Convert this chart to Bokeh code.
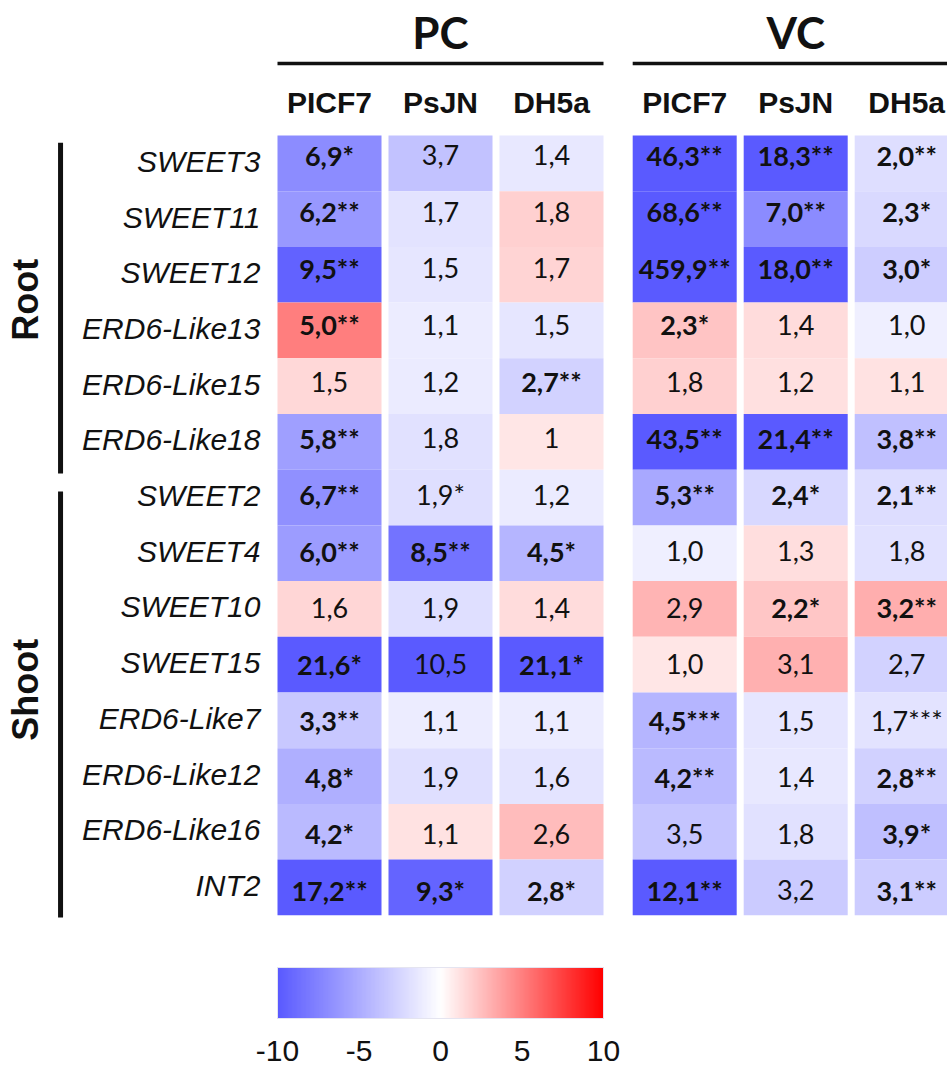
import numpy as np
from bokeh.plotting import figure
from bokeh.models import Range1d, ColumnDataSource, LinearColorMapper, ColorBar, FixedTicker
from bokeh.core.properties import value
from bokeh.embed import file_html
from bokeh.resources import INLINE

# ---------------- data ----------------
genes = ["SWEET3", "SWEET11", "SWEET12", "ERD6-Like13", "ERD6-Like15", "ERD6-Like18",
         "SWEET2", "SWEET4", "SWEET10", "SWEET15", "ERD6-Like7", "ERD6-Like12",
         "ERD6-Like16", "INT2"]
tissues = ["Root", "Shoot"]
tissue_sizes = [6, 8]
strains = ["PICF7", "PsJN", "DH5a"]
panels = ["PC", "VC"]

pc_labels = [
    ["6,9*", "3,7", "1,4"],
    ["6,2**", "1,7", "1,8"],
    ["9,5**", "1,5", "1,7"],
    ["5,0**", "1,1", "1,5"],
    ["1,5", "1,2", "2,7**"],
    ["5,8**", "1,8", "1"],
    ["6,7**", "1,9*", "1,2"],
    ["6,0**", "8,5**", "4,5*"],
    ["1,6", "1,9", "1,4"],
    ["21,6*", "10,5", "21,1*"],
    ["3,3**", "1,1", "1,1"],
    ["4,8*", "1,9", "1,6"],
    ["4,2*", "1,1", "2,6"],
    ["17,2**", "9,3*", "2,8*"],
]
# signed fold change (negative = blue, positive = red)
pc_values = [
    [-6.9, -3.7, -1.4],
    [-6.2, -1.7, 1.8],
    [-9.5, -1.5, 1.7],
    [5.0, -1.1, -1.5],
    [1.5, -1.2, -2.7],
    [-5.8, -1.8, 1.0],
    [-6.7, -1.9, -1.2],
    [-6.0, -8.5, -4.5],
    [1.6, -1.9, 1.4],
    [-21.6, -10.5, -21.1],
    [-3.3, -1.1, -1.1],
    [-4.8, -1.9, -1.6],
    [-4.2, 1.1, 2.6],
    [-17.2, -9.3, -2.8],
]
pc_signif = [
    [1, 0, 0], [1, 0, 0], [1, 0, 0], [1, 0, 0], [0, 0, 1], [1, 0, 0], [1, 0, 0],
    [1, 1, 1], [0, 0, 0], [1, 0, 1], [1, 0, 0], [1, 0, 0], [1, 0, 0], [1, 1, 1],
]

vc_labels = [
    ["46,3**", "18,3**", "2,0**"],
    ["68,6**", "7,0**", "2,3*"],
    ["459,9**", "18,0**", "3,0*"],
    ["2,3*", "1,4", "1,0"],
    ["1,8", "1,2", "1,1"],
    ["43,5**", "21,4**", "3,8**"],
    ["5,3**", "2,4*", "2,1**"],
    ["1,0", "1,3", "1,8"],
    ["2,9", "2,2*", "3,2**"],
    ["1,0", "3,1", "2,7"],
    ["4,5***", "1,5", "1,7***"],
    ["4,2**", "1,4", "2,8**"],
    ["3,5", "1,8", "3,9*"],
    ["12,1**", "3,2", "3,1**"],
]
vc_values = [
    [-46.3, -18.3, -2.0],
    [-68.6, -7.0, -2.3],
    [-459.9, -18.0, -3.0],
    [2.3, 1.4, -1.0],
    [1.8, 1.2, 1.1],
    [-43.5, -21.4, -3.8],
    [-5.3, -2.4, -2.1],
    [-1.0, 1.3, -1.8],
    [2.9, 2.2, 3.2],
    [1.0, 3.1, -2.7],
    [-4.5, -1.5, -1.7],
    [-4.2, -1.4, -2.8],
    [-3.5, -1.8, -3.9],
    [-12.1, -3.2, -3.1],
]
vc_signif = [
    [1, 1, 1], [1, 1, 1], [1, 1, 1], [1, 0, 0], [0, 0, 0], [1, 1, 1], [1, 1, 1],
    [0, 0, 0], [0, 1, 1], [0, 0, 0], [1, 0, 0], [1, 0, 1], [0, 0, 1], [1, 0, 1],
]
scale_ticks = [-10, -5, 0, 5, 10]
scale_tick_labels = ["-10", "-5", "0", "5", "10"]

# ---------------- palette ----------------
blue = np.array([90, 90, 255])
white = np.array([255, 255, 255])
red = np.array([255, 0, 0])
palette = []
for t in np.linspace(-1, 1, 256):
    c = white + (-t) * (blue - white) if t < 0 else white + t * (red - white)
    palette.append("#%02x%02x%02x" % tuple(int(round(v)) for v in c))
mapper = LinearColorMapper(palette=palette, low=-10, high=10)

# ---------------- layout constants ----------------
panel_offset = [0.0, 3.2]       # x offset of panel in column units
cell_w = 0.937
n = len(genes)

p = figure(width=947, height=1068,
           x_range=Range1d(-2.9640, 5.5676), y_range=Range1d(16.750, -2.4237),
           output_backend="svg", toolbar_location=None, min_border=0,
           x_axis_location=None, y_axis_location=None)
p.grid.visible = False
p.outline_line_color = None
p.background_fill_color = "white"

cells = dict(x=[], y=[], v=[])
txt_b = dict(x=[], y=[], t=[])
txt_n = dict(x=[], y=[], t=[])
for k, (labels, vals, sig) in enumerate([(pc_labels, pc_values, pc_signif),
                                         (vc_labels, vc_values, vc_signif)]):
    for r in range(n):
        for c in range(len(strains)):
            x = panel_offset[k] + c
            cells["x"].append(x)
            cells["y"].append(r + 0.5)
            cells["v"].append(vals[r][c])
            d = txt_b if sig[r][c] else txt_n
            d["x"].append(x)
            d["y"].append(r + 0.5 + (-8 + 11 * r / (n - 1)) / 55.7)
            d["t"].append(labels[r][c])

p.rect(x="x", y="y", width=cell_w, height=1.0, source=ColumnDataSource(cells),
       fill_color={"field": "v", "transform": mapper}, line_color=None)

cell_font = value("Lato")
p.text(x="x", y="y", text="t", source=ColumnDataSource(txt_b), text_font=cell_font,
       text_font_style="bold", text_font_size="27px", text_align="center",
       text_baseline="middle", text_color="#111111")
p.text(x="x", y="y", text="t", source=ColumnDataSource(txt_n), text_font=cell_font,
       text_font_style="normal", text_font_size="27px", text_align="center",
       text_baseline="middle", text_color="#111111")

# gene labels
p.text(x=[-0.622] * n, y=[r + 0.5 - 0.036 for r in range(n)], text=genes,
       text_font=value("Liberation Sans"), text_font_style="italic",
       text_font_size="30px", text_align="right", text_baseline="middle",
       text_color="#111111")

# strain headers and panel titles
hx, ht = [], []
for k in range(len(panels)):
    for c, s in enumerate(strains):
        hx.append(panel_offset[k] + c)
        ht.append(s)
p.text(x=hx, y=[-0.592] * len(hx), text=ht, text_font=value("Liberation Sans"),
       text_font_style="bold", text_font_size="30px", text_align="center",
       text_baseline="middle", text_color="#111111")
p.text(x=[panel_offset[k] + 1 for k in range(len(panels))], y=[-1.867] * len(panels),
       text=panels, text_font=value("Lato"), text_font_style="bold",
       text_font_size="44px", text_align="center", text_baseline="middle",
       text_color="#111111")
p.segment(x0=[panel_offset[k] - cell_w / 2 for k in range(len(panels))],
          x1=[panel_offset[k] + 2 + cell_w / 2 for k in range(len(panels))],
          y0=[-1.293] * len(panels), y1=[-1.293] * len(panels),
          line_color="#111111", line_width=3.5)

# tissue bars and labels
starts = [0, tissue_sizes[0]]
bar_y0 = [starts[0] + 0.13, starts[1] + 0.39]
bar_y1 = [starts[0] + tissue_sizes[0] + 0.07, starts[1] + tissue_sizes[1] + 0.04]
p.segment(x0=[-2.423] * 2, x1=[-2.423] * 2, y0=bar_y0, y1=bar_y1,
          line_color="#111111", line_width=5)
p.text(x=[-2.739] * 2, y=[s + sz / 2 - 0.05 for s, sz in zip(starts, tissue_sizes)],
       text=tissues, angle=np.pi / 2, text_font=value("Liberation Sans"),
       text_font_style="bold", text_font_size="36px", text_align="center",
       text_baseline="middle", text_color="#111111")

cb = ColorBar(color_mapper=mapper, orientation="horizontal", location=(277, 5),
              width=326, height=51, padding=0,
              ticker=FixedTicker(ticks=scale_ticks),
              major_label_overrides=dict(zip(scale_ticks, scale_tick_labels)),
              major_tick_line_color=None, minor_tick_line_color=None,
              major_label_text_font="Liberation Sans", major_label_text_font_size="30px",
              major_label_text_color="#111111", label_standoff=22,
              bar_line_color="#e4e4f0", border_line_color=None,
              background_fill_color=None)
p.add_layout(cb)

open("out.html", "w").write(file_html(p, INLINE))
